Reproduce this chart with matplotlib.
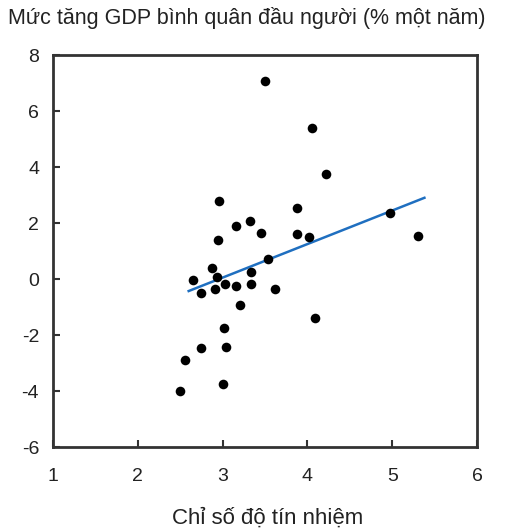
import matplotlib
matplotlib.use('Agg')
import matplotlib.pyplot as plt

plt.rcParams['font.family'] = ['Liberation Sans', 'DejaVu Sans']

# chi so do tin nhiem vs muc tang GDP
tin_nhiem = [3.50, 4.05, 4.22, 2.96, 3.88, 4.97, 3.32, 3.16, 3.45, 3.88, 4.02,
             5.31, 2.94, 3.54, 2.87, 3.33, 2.93, 2.65, 3.03, 3.16, 3.34, 2.75,
             2.91, 3.62, 3.20, 4.09, 3.02, 3.04, 2.74, 2.56, 3.00, 2.50]
gdp = [7.07, 5.38, 3.74, 2.77, 2.54, 2.34, 2.06, 1.89, 1.65, 1.60, 1.50,
       1.55, 1.41, 0.73, 0.38, 0.26, 0.07, -0.02, -0.19, -0.24, -0.19, -0.50,
       -0.37, -0.37, -0.94, -1.39, -1.76, -2.43, -2.45, -2.91, -3.76, -4.01]
line_x = [2.60, 5.38]
line_y = [-0.43, 2.90]

xticks = [1, 2, 3, 4, 5, 6]
yticks = [-6, -4, -2, 0, 2, 4, 6, 8]

fig = plt.figure(figsize=(5.07, 5.31), dpi=100)
ax = fig.add_axes([53/507, 1-447/531, 424/507, 392/531])

ax.scatter(tin_nhiem, gdp, s=48, color='black', zorder=3, linewidths=0)
ax.plot(line_x, line_y, color='#1f6fc0', lw=1.8, zorder=2)

ax.set_xlim(1, 6)
ax.set_ylim(-6, 8)
ax.set_xticks(xticks)
ax.set_yticks(yticks)
ax.set_yticklabels([str(v) if v >= 0 else '-' + str(-v) for v in yticks])
ax.tick_params(direction='in', length=5, width=1.5, color='#333333',
               labelsize=14, labelcolor='#222222')
ax.tick_params(axis='x', pad=15)
ax.tick_params(axis='y', pad=10)
for sp in ax.spines.values():
    sp.set_linewidth(2)
    sp.set_color('#333333')

fig.text(8/507, 1-18/531, 'Mức tăng GDP bình quân đầu người (% một năm)',
         fontsize=15.5, va='center', ha='left', color='#222222')
fig.text(268/507, 1-518/531, 'Chỉ số độ tín nhiệm', fontsize=16,
         va='center', ha='center', color='#222222')

fig.savefig('out.png', dpi=100)
